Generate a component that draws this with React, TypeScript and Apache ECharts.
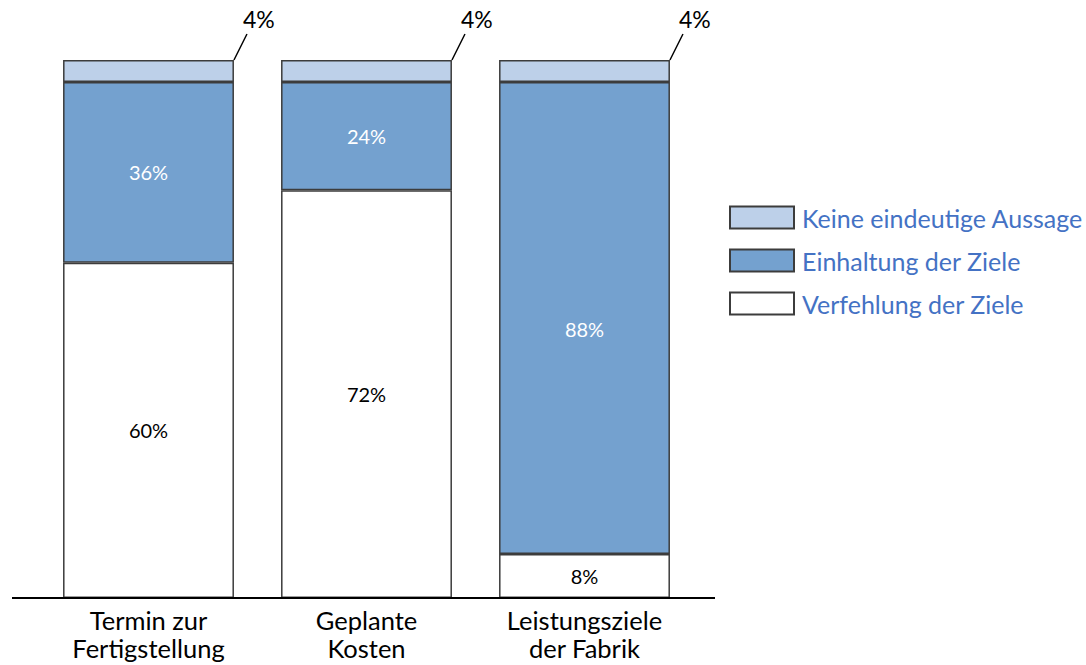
import React, { useEffect, useRef } from "react";
import * as echarts from "echarts";

const categories = ["Termin zur\nFertigstellung", "Geplante\nKosten", "Leistungsziele\nder Fabrik"];
const seriesNames = ["Verfehlung der Ziele", "Einhaltung der Ziele", "Keine eindeutige Aussage"];
// segment heights (percent of the bar)
const verfehlung = [62.3, 75.8, 8.2];
const einhaltung = [33.6, 20.1, 87.7];
const keine = [4.1, 4.1, 4.1];
// printed labels
const verfehlungLabels = ["60%", "72%", "8%"];
const einhaltungLabels = ["36%", "24%", "88%"];
const keineLabels = ["4%", "4%", "4%"];

const FONT = "Lato, 'Noto Sans', sans-serif";
const GAP = 0.216;

export default function App() {
  const ref = useRef<HTMLDivElement>(null);
  useEffect(() => {
    if (!ref.current) return;
    const chart = echarts.init(ref.current, undefined, { renderer: "svg" });
    const border = { borderColor: "#3c3c3c", borderWidth: 1.5 };
    const option: any = {
      animation: false,
      backgroundColor: "#ffffff",
      textStyle: { fontFamily: FONT },
      grid: { left: 39.5, right: 392.5, top: 60, bottom: 67, containLabel: false },
      legend: {
        orient: "vertical",
        left: 729,
        top: 205,
        padding: 0,
        itemWidth: 64,
        itemHeight: 22,
        itemGap: 18,
        icon: "rect",
        data: [seriesNames[2], seriesNames[1], seriesNames[0]],
        textStyle: { color: "#4472C4", fontSize: 25, fontFamily: FONT, padding: [0, 0, 0, 3] },
      },
      xAxis: {
        type: "category",
        data: categories,
        axisLine: { show: false },
        axisTick: { show: false },
        axisLabel: { color: "#000", fontSize: 25.5, lineHeight: 28, margin: 8, fontFamily: FONT },
      },
      yAxis: { type: "value", min: 0, max: 100, show: false },
      series: [
        {
          name: seriesNames[0],
          type: "bar",
          stack: "total",
          barCategoryGap: GAP * 100 + "%",
          data: verfehlung,
          itemStyle: { color: "#ffffff", ...border },
          label: {
            show: true,
            position: "inside",
            color: "#000",
            fontSize: 20,
            fontFamily: FONT,
            formatter: (p: any) => verfehlungLabels[p.dataIndex],
          },
        },
        {
          name: seriesNames[1],
          type: "bar",
          stack: "total",
          data: einhaltung.map((v, i) => (i === 2 ? { value: v, label: { offset: [0, 11] } } : v)),
          itemStyle: { color: "#74A1CF", ...border },
          label: {
            show: true,
            position: "inside",
            color: "#fff",
            fontSize: 20,
            fontFamily: FONT,
            formatter: (p: any) => einhaltungLabels[p.dataIndex],
          },
        },
        {
          name: seriesNames[2],
          type: "bar",
          stack: "total",
          data: keine,
          itemStyle: { color: "#BDD0E9", ...border },
          label: {
            show: true,
            position: ["100%", 0],
            align: "left",
            verticalAlign: "middle",
            offset: [9, -41.5],
            color: "#000",
            fontSize: 23,
            fontFamily: FONT,
            formatter: (p: any) => keineLabels[p.dataIndex],
          },
        },
      ],
    };
    chart.setOption(option);

    const p0 = chart.convertToPixel({ gridIndex: 0 }, [0, 0]) as number[];
    const p1 = chart.convertToPixel({ gridIndex: 0 }, [1, 0]) as number[];
    const catW = p1[0] - p0[0];
    const half = (catW * (1 - GAP)) / 2;
    const graphics: any[] = [
      {
        type: "line",
        shape: { x1: 12, y1: p0[1], x2: 715, y2: p0[1] },
        style: { stroke: "#000", lineWidth: 2 },
        z: 10,
      },
    ];
    categories.forEach((_, i) => {
      const total = verfehlung[i] + einhaltung[i] + keine[i];
      const pt = chart.convertToPixel({ gridIndex: 0 }, [i, total]) as number[];
      const x = pt[0] + half;
      graphics.push({
        type: "line",
        shape: { x1: x, y1: pt[1], x2: x + 13, y2: pt[1] - 26 },
        style: { stroke: "#000", lineWidth: 1.5 },
        z: 10,
      });
    });
    chart.setOption({ graphic: graphics });
    return () => chart.dispose();
  }, []);
  return <div ref={ref} style={{ position: "fixed", left: 0, top: 0, width: 1086, height: 665 }} />;
}
